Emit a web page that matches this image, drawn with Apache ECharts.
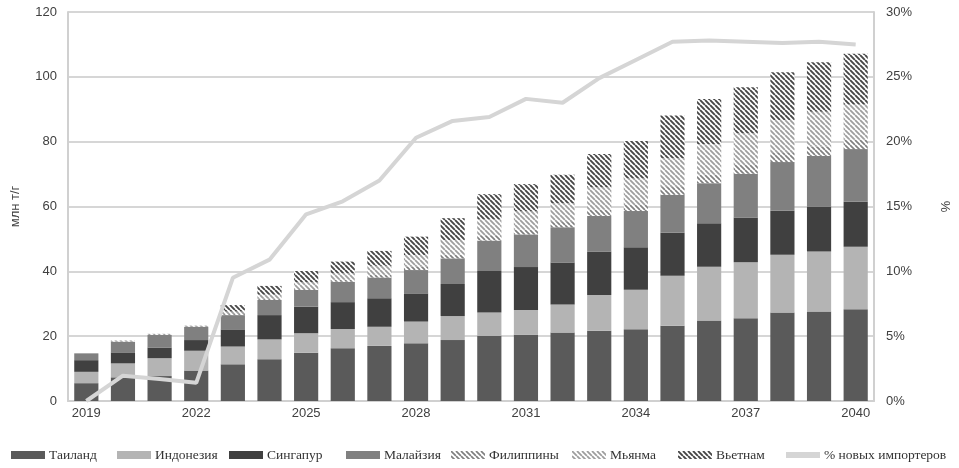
<!DOCTYPE html>
<html>
<head>
<meta charset="utf-8">
<script src="https://cdn.jsdelivr.net/npm/echarts@6/dist/echarts.min.js"></script>
<style>html,body{margin:0;padding:0;background:#fff;}#c{width:959px;height:468px;}</style>
</head>
<body>
<div id="c"></div>
<script>
const years = ['2019','2020','2021','2022','2023','2024','2025','2026','2027','2028','2029','2030','2031','2032','2033','2034','2035','2036','2037','2038','2039','2040'];
const thailand  = [5.5,7.3,7.7,9.4,11.3,12.9,14.9,16.3,17.0,17.8,18.8,20.1,20.4,21.1,21.7,22.1,23.2,24.8,25.5,27.3,27.6,28.3];
const indonesia = [3.5,4.3,5.5,6.1,5.5,6.1,6.0,5.9,5.9,6.7,7.4,7.2,7.7,8.7,11.0,12.2,15.4,16.6,17.3,17.8,18.5,19.3];
const singapore = [3.6,3.4,3.3,3.3,5.3,7.5,8.2,8.3,8.8,8.7,9.9,12.8,13.2,12.9,13.4,13.1,13.3,13.4,13.8,13.6,13.9,13.9];
const malaysia  = [2.1,3.3,3.9,4.1,4.4,4.7,5.2,6.3,6.4,7.2,7.9,9.4,10.1,10.9,11.0,11.2,11.7,12.4,13.5,15.0,15.6,16.2];
const philippines = [0,0.1,0.1,0.1,0.3,0.4,0.5,0.6,0.8,1.0,1.2,1.4,1.5,1.6,1.9,2.1,2.4,2.6,2.7,2.8,2.9,2.9];
const myanmar   = [0,0.1,0.1,0.1,0.8,1.2,1.8,2.0,2.8,3.6,4.4,5.1,5.6,5.8,6.9,7.9,9.0,9.5,9.8,10.2,10.7,10.9];
const vietnam   = [0,0.1,0.1,0.1,2.0,2.7,3.5,3.6,4.6,5.7,6.8,7.8,8.4,8.8,10.3,11.6,13.1,13.9,14.2,14.7,15.3,15.6];
const newImporters = [0,1.95,1.7,1.4,9.5,10.9,14.4,15.4,17.0,20.3,21.6,21.9,23.3,23.0,24.9,26.3,27.7,27.8,27.7,27.6,27.7,27.5];
const leftTicks = {min:0, max:120, interval:20};
const rightTicks = {min:0, max:30, interval:5};

function stripes(color, lw, size) {
  const c = document.createElement('canvas');
  c.width = size; c.height = size;
  const ctx = c.getContext('2d');
  ctx.fillStyle = '#ffffff';
  ctx.fillRect(0, 0, size, size);
  ctx.strokeStyle = color;
  ctx.lineWidth = lw;
  ctx.beginPath();
  for (const k of [-size, 0, size]) {
    ctx.moveTo(k, 0);
    ctx.lineTo(k + size, size);
  }
  ctx.stroke();
  return {image: c, repeat: 'repeat'};
}

const fontSans = '"Liberation Sans", Arial, sans-serif';
const fontSerif = '"Liberation Serif", "Times New Roman", serif';

function barSeries(name, data, color) {
  return {name, type: 'bar', stack: 'total', data, barWidth: '66%',
    itemStyle: {color}, emphasis: {disabled: true}};
}

const series = [
  barSeries('Таиланд', thailand, '#5a5a5a'),
  barSeries('Индонезия', indonesia, '#b4b4b4'),
  barSeries('Сингапур', singapore, '#404040'),
  barSeries('Малайзия', malaysia, '#808080'),
  barSeries('Филиппины', philippines, stripes('#808080', 1.7, 5)),
  barSeries('Мьянма', myanmar, stripes('#9e9e9e', 1.8, 5)),
  barSeries('Вьетнам', vietnam, stripes('#474747', 1.9, 5)),
  {name: '% новых импортеров', type: 'line', yAxisIndex: 1, data: newImporters,
    showSymbol: false, symbol: 'none', lineStyle: {color: '#d5d5d5', width: 4},
    itemStyle: {color: '#d5d5d5'}, z: 10, emphasis: {disabled: true}}
];

const legendPos = [
  ['Таиланд', 11], ['Индонезия', 117], ['Сингапур', 229], ['Малайзия', 346],
  ['Филиппины', 451], ['Мьянма', 572], ['Вьетнам', 678], ['% новых импортеров', 786]
];
const legends = legendPos.map(([n, x]) => ({
  data: [{name: n, icon: 'rect'}], left: x, top: 448, padding: 0,
  itemWidth: 34, itemHeight: n === '% новых импортеров' ? 6 : 8, itemGap: 4,
  selectedMode: false,
  textStyle: {fontFamily: fontSerif, fontSize: 13.5, color: '#333', lineHeight: 14, padding: [0,0,0,-1]}
}));

const chart = echarts.init(document.getElementById('c'), null, {renderer: 'canvas'});
chart.setOption({
  animation: false,
  backgroundColor: '#ffffff',
  grid: {left: 68, right: 82, top: 12, bottom: 67, containLabel: false},
  legend: legends,
  xAxis: {
    type: 'category', data: years,
    axisLine: {show: true, lineStyle: {color: '#d0d0d0', width: 2}},
    axisTick: {show: false},
    axisLabel: {interval: 2, color: '#404040', fontFamily: fontSans, fontSize: 13, margin: 6}
  },
  yAxis: [
    {type: 'value', min: leftTicks.min, max: leftTicks.max, interval: leftTicks.interval,
      name: 'млн т/г', nameLocation: 'middle', nameGap: 46, nameRotate: 90,
      nameTextStyle: {fontFamily: fontSans, fontSize: 13, color: '#404040'},
      axisLine: {show: true, lineStyle: {color: '#d0d0d0', width: 2}},
      axisTick: {show: false},
      axisLabel: {color: '#404040', fontFamily: fontSans, fontSize: 13, margin: 11},
      splitLine: {show: true, lineStyle: {color: '#d6d6d6', width: 2}}},
    {type: 'value', min: rightTicks.min, max: rightTicks.max, interval: rightTicks.interval,
      position: 'right',
      name: '%', nameLocation: 'middle', nameGap: 64, nameRotate: -90,
      nameTextStyle: {fontFamily: fontSans, fontSize: 13, color: '#404040'},
      axisLine: {show: true, lineStyle: {color: '#d0d0d0', width: 2}},
      axisTick: {show: false},
      axisLabel: {color: '#404040', fontFamily: fontSans, fontSize: 13, margin: 12, formatter: '{value}%'},
      splitLine: {show: false}}
  ],
  series
});
</script>
</body>
</html>
